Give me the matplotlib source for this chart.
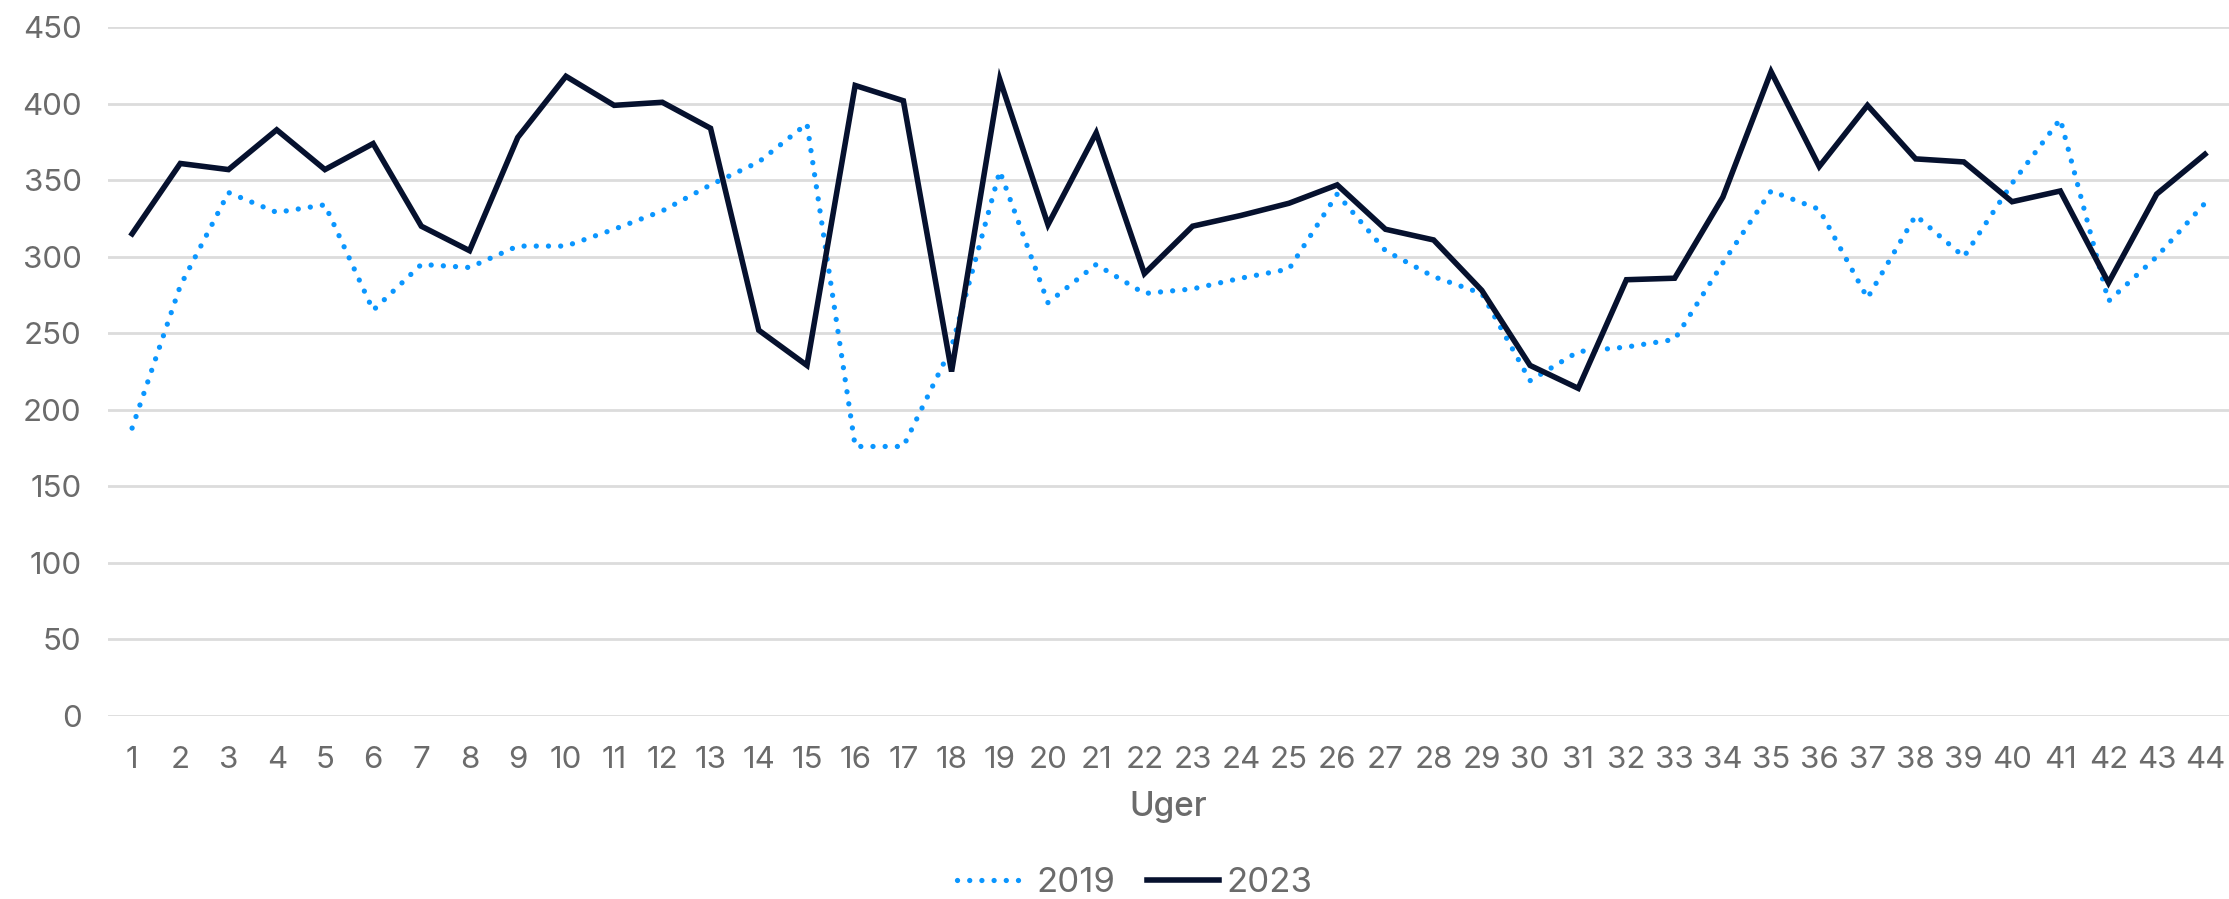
# Ugentlige tal 2019 vs 2023
import matplotlib.pyplot as plt

uger = list(range(1, 45))
v2019 = [188, 281, 342, 329, 334, 265, 295, 293, 307, 307, 318, 330, 347, 362, 387,
         176, 176, 241, 356, 270, 295, 276, 279, 286, 292, 341, 304, 287, 276, 219,
         238, 241, 246, 296, 343, 331, 273, 327, 300, 348, 390, 271, 300, 335]
v2023 = [315, 361, 357, 383, 357, 374, 320, 304, 378, 418, 399, 401, 384, 252, 229,
         412, 402, 225, 416, 321, 381, 289, 320, 327, 335, 347, 318, 311, 278, 229,
         214, 285, 286, 339, 421, 359, 399, 364, 362, 336, 343, 283, 341, 367]
yticks = list(range(0, 451, 50))

grey = '#6b6b6b'
plt.rcParams['font.family'] = ['Inter', 'DejaVu Sans']

fig = plt.figure(figsize=(22.29, 8.99), dpi=100)
ax = fig.add_axes([0.04845, 0.2039, 0.95155, 0.7657])

ax.plot(uger, v2019, color='#0a96ff', lw=3.8, linestyle=(0, (0.01, 2.3)),
        dash_capstyle='round', solid_capstyle='round', label='2019')
ax.plot(uger, v2023, color='#06112e', lw=4, solid_joinstyle='miter', label='2023')

ax.set_xlim(0.5, 44.5)
ax.set_ylim(0, 450)
ax.set_xticks(uger)
ax.set_yticks(yticks)
ax.grid(axis='y', color='#dcdcdc', lw=2)
ax.set_axisbelow(True)
for s in ax.spines.values():
    s.set_visible(False)
ax.tick_params(length=0, labelsize=22.5, colors=grey)
ax.tick_params(axis='y', pad=19)
ax.tick_params(axis='x', pad=22)
ax.set_xlabel('Uger', fontsize=24, color=grey, fontweight='medium', labelpad=12)

fig.legend(loc='center', bbox_to_anchor=(0.509, 0.018), ncol=2, frameon=False,
           fontsize=25, labelcolor=grey, handlelength=2.07, handletextpad=0.23,
           columnspacing=0.9)

fig.savefig('out.png', dpi=100)
